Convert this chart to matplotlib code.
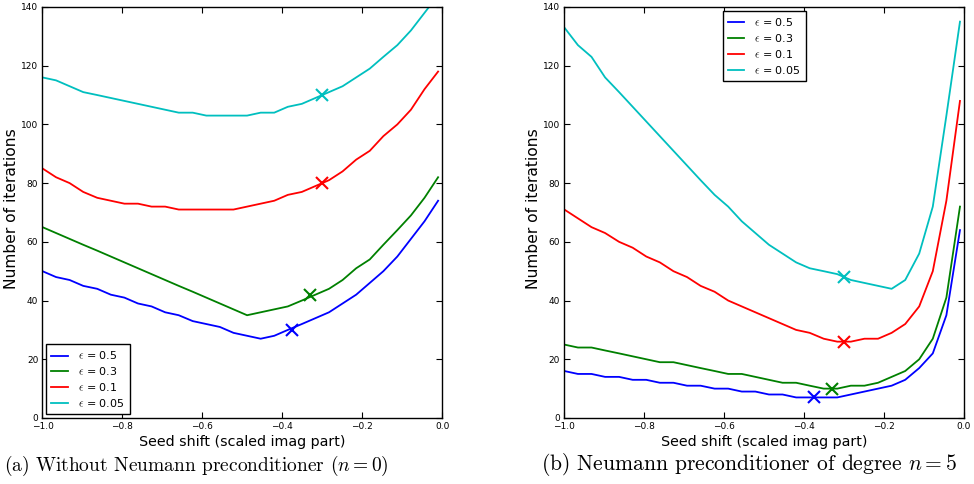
import matplotlib
matplotlib.use("Agg")
import matplotlib.pyplot as plt

# seed shift grid (scaled imaginary part)
shifts = [-1.0, -0.966, -0.932, -0.898, -0.863, -0.829, -0.795, -0.761, -0.727, -0.693,
          -0.659, -0.624, -0.590, -0.556, -0.522, -0.488, -0.454, -0.420, -0.386, -0.351,
          -0.317, -0.283, -0.249, -0.215, -0.181, -0.147, -0.112, -0.078, -0.044, -0.010]

eps_labels = [r"$\epsilon$ = 0.5", r"$\epsilon$ = 0.3", r"$\epsilon$ = 0.1", r"$\epsilon$ = 0.05"]
colors = ["b", "g", "r", "c"]

# (a) without Neumann preconditioner
left_eps05 = [50, 48, 47, 45, 44, 42, 41, 39, 38, 36, 35, 33, 32, 31, 29, 28, 27, 28, 30, 32,
              34, 36, 39, 42, 46, 50, 55, 61, 67, 74]
left_eps03 = [65, 63, 61, 59, 57, 55, 53, 51, 49, 47, 45, 43, 41, 39, 37, 35, 36, 37, 38, 40,
              42, 44, 47, 51, 54, 59, 64, 69, 75, 82]
left_eps01 = [85, 82, 80, 77, 75, 74, 73, 73, 72, 72, 71, 71, 71, 71, 71, 72, 73, 74, 76, 77,
              79, 81, 84, 88, 91, 96, 100, 105, 112, 118]
left_eps005 = [116, 115, 113, 111, 110, 109, 108, 107, 106, 105, 104, 104, 103, 103, 103, 103,
               104, 104, 106, 107, 109, 111, 113, 116, 119, 123, 127, 132, 138, 144]

# (b) Neumann preconditioner of degree 5
right_eps05 = [16, 15, 15, 14, 14, 13, 13, 12, 12, 11, 11, 10, 10, 9, 9, 8, 8, 7, 7, 7,
               7, 8, 9, 10, 11, 13, 17, 22, 35, 64]
right_eps03 = [25, 24, 24, 23, 22, 21, 20, 19, 19, 18, 17, 16, 15, 15, 14, 13, 12, 12, 11, 10,
               10, 11, 11, 12, 14, 16, 20, 27, 41, 72]
right_eps01 = [71, 68, 65, 63, 60, 58, 55, 53, 50, 48, 45, 43, 40, 38, 36, 34, 32, 30, 29, 27,
               26, 26, 27, 27, 29, 32, 38, 50, 74, 108]
right_eps005 = [133, 127, 123, 116, 111, 106, 101, 96, 91, 86, 81, 76, 72, 67, 63, 59, 56, 53,
                51, 50, 49, 47, 46, 45, 44, 47, 56, 72, 103, 135]

# predicted optimal shifts (crosses)
opt_x = [-0.375, -0.33, -0.30, -0.30]
left_opt_y = [30, 42, 80, 110]
right_opt_y = [7, 10, 26, 48]

xticks = [-1.0, -0.8, -0.6, -0.4, -0.2, 0.0]
yticks = [0, 20, 40, 60, 80, 100, 120, 140]

plt.rcParams["font.family"] = ["DejaVu Sans"]
plt.rcParams["mathtext.fontset"] = "cm"

fig = plt.figure(figsize=(9.74, 4.84), dpi=100)
ax_l = fig.add_axes([0.0436, 0.1364, 0.4103, 0.8492])
ax_r = fig.add_axes([0.5794, 0.1364, 0.4103, 0.8492])


def draw_panel(ax, series, opt_y, legend_loc):
    for ys, c, lab in zip(series, colors, eps_labels):
        ax.plot(shifts, ys, color=c, lw=1.3, label=lab)
    for xo, yo, c in zip(opt_x, opt_y, colors):
        ax.plot(xo, yo, marker="x", color=c, ms=9, mew=1.5, ls="none")
    ax.set_xlim(-1.0, 0.0)
    ax.set_ylim(0, 140)
    ax.set_xticks(xticks)
    ax.set_yticks(yticks)
    ax.set_xticklabels(["\u22121.0", "\u22120.8", "\u22120.6", "\u22120.4", "\u22120.2", "0.0"])
    ax.tick_params(direction="in", top=True, right=True, length=4, width=0.8,
                   labelsize=6.5, pad=3, colors="black")
    for s in ax.spines.values():
        s.set_linewidth(1.0)
    ax.set_xlabel("Seed shift (scaled imag part)", fontsize=10.3, labelpad=3)
    ax.set_ylabel("Number of iterations", fontsize=11.2)
    ax.yaxis.set_label_coords(-0.059, 0.51)
    leg = ax.legend(loc=legend_loc, fontsize=8, fancybox=False, framealpha=1,
                    edgecolor="black", handlelength=1.5, labelspacing=0.35,
                    borderpad=0.45, handletextpad=0.9, borderaxespad=0.35)
    leg.get_frame().set_linewidth(1.0)


draw_panel(ax_l, [left_eps05, left_eps03, left_eps01, left_eps005], left_opt_y, "lower left")
draw_panel(ax_r, [right_eps05, right_eps03, right_eps01, right_eps005], right_opt_y, "upper center")

fig.text(0.004, 0.028, r"(a) Without Neumann preconditioner ($n = 0$)",
         fontsize=14, family="cmr10", math_fontfamily="cm", va="baseline")
fig.text(0.555, 0.028, r"(b) Neumann preconditioner of degree $n = 5$",
         fontsize=15.5, family="cmr10", math_fontfamily="cm", va="baseline")

fig.savefig("out.png", dpi=100, facecolor="white")
